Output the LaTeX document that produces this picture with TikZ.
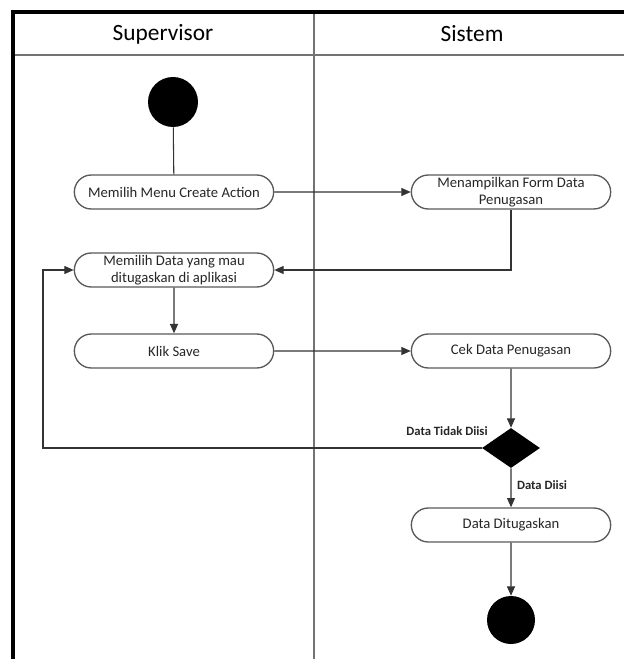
\documentclass[tikz,border=0pt]{standalone}
\usepackage{fontspec}
\setmainfont{Carlito}
\usetikzlibrary{shapes.geometric,shapes.misc,arrows.meta}
\begin{document}
\begin{tikzpicture}[x=0.75pt,y=-0.75pt,
  act/.style={draw=black!65, line width=1pt, rounded rectangle, minimum width=151.5pt, minimum height=25.5pt, inner sep=1pt, align=center, font=\fontsize{11}{12.5}\selectfont, text=black!85},
  dot/.style={circle, fill=black, inner sep=0pt},
  flow/.style={draw=black!80, line width=0.8pt, -{Triangle[length=7pt,width=6pt]}},
  plain/.style={draw=black!80, line width=0.8pt},
  lbl/.style={font=\bfseries\fontsize{9.5}{11}\selectfont, text=black!85},
  lane/.style={draw=black!55, line width=1.3pt},
  head/.style={font=\fontsize{17.5}{20}\selectfont}]
\useasboundingbox (0,0) rectangle (624,659);
\draw[lane] (13,55) -- (624,55);
\draw[lane] (314,12) -- (314,659);
\draw[line width=2.8pt, line join=miter] (13,659) -- (13,12) -- (624,12);
\node[head] (h1) at (163,34) {Supervisor};
\node[head] (h2) at (472,34) {Sistem};

\node[dot, minimum size=37.5pt] (start) at (173,102) {};
\node[act] (a1) at (174,192) {Memilih Menu Create Action};
\node[act] (a2) at (511,192) {Menampilkan Form Data\\Penugasan};
\node[act] (a3) at (174,270) {Memilih Data yang mau\\ditugaskan di aplikasi};
\node[act] (a4) at (174,351) {Klik Save};
\node[act] (a5) at (511,351) {Cek Data Penugasan};
\node[diamond, fill=black, inner sep=0pt, minimum width=43.5pt, minimum height=30pt] (dec) at (511,448) {};
\node[act] (a6) at (511,525) {Data Ditugaskan};
\node[dot, minimum size=36pt] (end) at (511,620) {};
\coordinate (loopc) at (43,448);

\node[lbl] (l1) at (447,431) {Data Tidak Diisi};
\node[lbl] (l2) at (542,485) {Data Diisi};

\draw[plain] (start) -- (a1);
\draw[flow] (a1) -- (a2);
\draw[flow] (a2.south) |- (a3.east);
\draw[flow] (a3) -- (a4);
\draw[flow] (a4) -- (a5);
\draw[flow] (a5) -- (dec);
\draw[flow] (dec.west) -- (loopc) |- (a3.west);
\draw[flow] (dec) -- (a6);
\draw[flow] (a6) -- (end);
\end{tikzpicture}
\end{document}
